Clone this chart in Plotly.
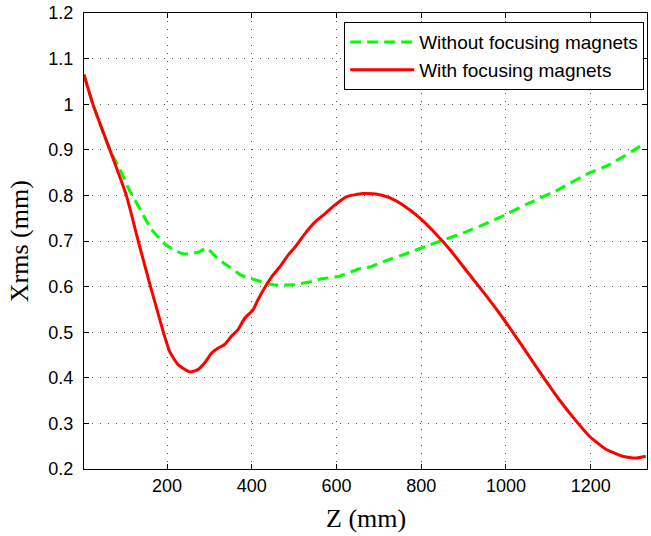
import plotly.graph_objects as go

# Data
z_without = [4, 25, 65, 89, 112, 136, 163, 199, 238, 273, 293, 316, 336, 348, 375, 411,
             450, 497, 536, 560, 607, 654, 678, 717, 764, 795, 858, 900, 950, 984,
             1047, 1118, 1196, 1243, 1330]
x_without = [1.065, 1.0, 0.9, 0.857, 0.810, 0.770, 0.726, 0.690, 0.672, 0.675, 0.684,
             0.665, 0.650, 0.643, 0.625, 0.614, 0.604, 0.604, 0.610, 0.616, 0.623,
             0.639, 0.643, 0.657, 0.672, 0.683, 0.704, 0.718, 0.737, 0.751, 0.780,
             0.810, 0.849, 0.867, 0.915]

z_with = [4, 25, 65, 104, 132, 161, 171, 192, 206, 226, 254, 273, 289, 305, 320, 336,
          352, 367, 383, 403, 414, 434, 450, 466, 485, 505, 528, 552, 572, 595, 623,
          662, 693, 725, 760, 795, 827, 866, 900, 950, 985, 1031, 1078, 1125, 1165,
          1196, 1235, 1275, 1306, 1330]
x_with = [1.065, 1.0, 0.9, 0.8, 0.7, 0.6, 0.567, 0.498, 0.458, 0.429, 0.413, 0.418,
          0.433, 0.454, 0.465, 0.473, 0.491, 0.505, 0.530, 0.549, 0.570, 0.603, 0.625,
          0.643, 0.668, 0.690, 0.719, 0.744, 0.759, 0.778, 0.797, 0.804, 0.803, 0.795,
          0.777, 0.752, 0.723, 0.683, 0.643, 0.584, 0.541, 0.480, 0.415, 0.353, 0.306,
          0.273, 0.244, 0.228, 0.224, 0.228]

x_ticks = [200, 400, 600, 800, 1000, 1200]
y_ticks = [0.2, 0.3, 0.4, 0.5, 0.6, 0.7, 0.8, 0.9, 1.0, 1.1, 1.2]
y_tick_labels = ["0.2", "0.3", "0.4", "0.5", "0.6", "0.7", "0.8", "0.9", "1", "1.1", "1.2"]

fig = go.Figure()
fig.add_trace(go.Scatter(x=z_without, y=x_without, mode="lines",
                         name="Without focusing magnets",
                         line=dict(color="#00FF00", width=3, dash="11px,6px",
                                   shape="spline", smoothing=0.5)))
fig.add_trace(go.Scatter(x=z_with, y=x_with, mode="lines",
                         name="With focusing magnets",
                         line=dict(color="#FF0000", width=3,
                                   shape="spline", smoothing=0.5)))

axis_common = dict(showline=True, linecolor="black", linewidth=1, mirror="ticks",
                   ticks="inside", ticklen=5, tickcolor="black",
                   showgrid=True, gridcolor="#555555", gridwidth=1, griddash="1px,7px",
                   zeroline=False, ticklabeloverflow="allow",
                   tickfont=dict(family="Liberation Sans, Arial", size=18, color="black"))

fig.update_xaxes(range=[4, 1333], tickvals=x_ticks, **axis_common)
fig.update_yaxes(range=[0.2, 1.2], tickvals=y_ticks, ticktext=y_tick_labels,
                 ticklabelstandoff=6, **axis_common)

fig.update_layout(
    width=651, height=536,
    margin=dict(l=84, r=3, t=9, b=67),
    plot_bgcolor="white", paper_bgcolor="white",
    showlegend=True,
    legend=dict(x=0.995, y=0.98, xanchor="right", yanchor="top",
                bgcolor="white", bordercolor="black", borderwidth=1,
                itemwidth=64,
                font=dict(family="Liberation Sans, Arial", size=19, color="black"),
                tracegroupgap=0),
    annotations=[
        dict(text="Z (mm)", xref="paper", yref="paper", x=0.5, y=-0.109,
             xanchor="center", yanchor="middle", showarrow=False,
             font=dict(family="Liberation Serif, Times New Roman", size=26, color="black")),
        dict(text="Xrms (mm)", xref="paper", yref="paper", x=-0.115, y=0.5,
             xanchor="center", yanchor="middle", showarrow=False, textangle=-90,
             font=dict(family="Liberation Serif, Times New Roman", size=26, color="black")),
    ],
)

fig.write_html("out.html", config={"displayModeBar": False},
               post_script="document.body.style.margin='0';document.body.style.overflow='hidden';")
